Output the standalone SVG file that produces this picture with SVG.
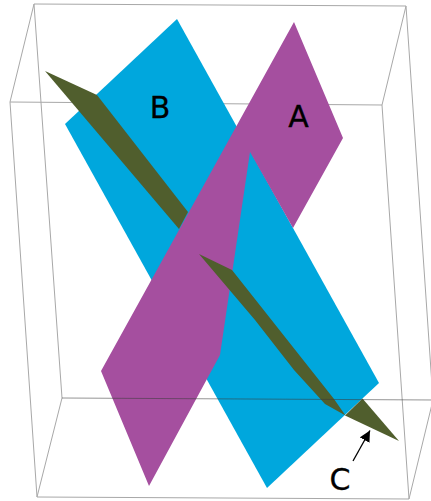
<svg xmlns="http://www.w3.org/2000/svg" width="431" height="501" viewBox="0 0 431 501">
<style>
.box{fill:none;stroke:#a8a8a8;stroke-width:1}
.front{fill:none;stroke:#3c3c3c;stroke-opacity:.55;stroke-width:1}
.lbl{font-family:"DejaVu Sans",sans-serif;font-size:30px;fill:#000;stroke:#000;stroke-width:.3;text-anchor:middle}
.olive{fill:#505e2d}
</style>
<defs><marker id="ah" markerUnits="userSpaceOnUse" markerWidth="13" markerHeight="12" refX="11" refY="5.500" orient="auto"><path d="M0 0L11 5.500L0 11Z" fill="#000"/></marker></defs>
<g id="box-back">
<path class="box" d="M34 4L406 6L382 105L10 102L34 4M34 4L62 398M10 102L37 497L409 499L382 105M406 6L433 400M37 497L62 398M409 499L433 400"/>
</g>
<g id="plane-b"><polygon points="177,19 379,383 267,488 65,124" fill="#00a7dd"/></g>
<g id="plane-a"><polygon points="294,22 343,138 293,228 250,152 220,355 149,486 101,371" fill="#a54f9f"/></g>
<g id="plane-c">
<polygon class="olive" points="45,71 97,95 188,212 179,229"/>
<polygon class="olive" points="199,254 232,270 334,399 345.500,415.500 325,404 294,370 255,320"/>
<polygon class="olive" points="345,415.500 362.500,398.500 399,441"/>
</g>
<g id="box-front"><path class="front" d="M62 398L433 400"/></g>
<g id="connectors"><line x1="353" y1="461" x2="370" y2="430.500" stroke="#000" stroke-width="1.3" marker-end="url(#ah)"/></g>
<g id="label-a"><text class="lbl" x="298.500" y="126.500">A</text></g>
<g id="label-b"><text class="lbl" x="160" y="118">B</text></g>
<g id="label-c"><text class="lbl" x="340" y="489.500">C</text></g>
</svg>
